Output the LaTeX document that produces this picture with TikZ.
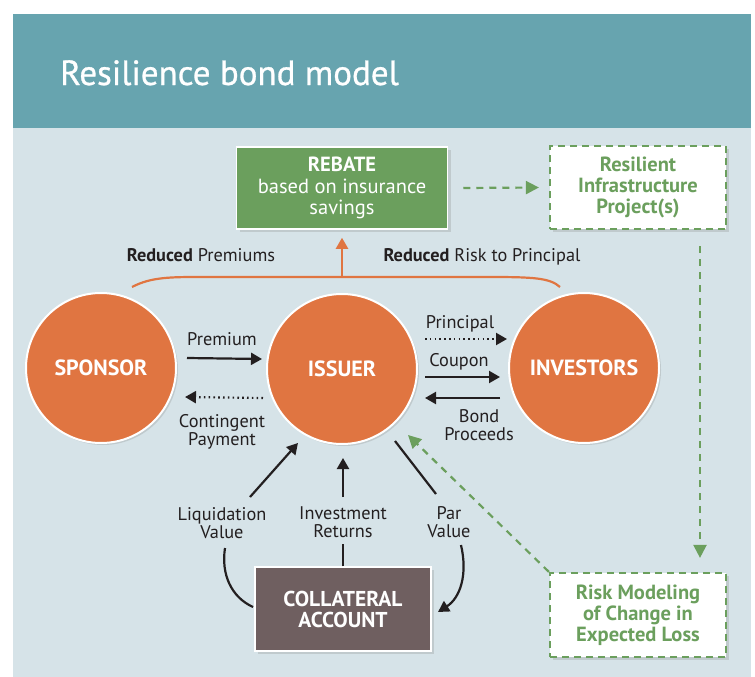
\documentclass[tikz,border=0pt]{standalone}
\usepackage{fontspec}
\setmainfont{PT Sans}
\newfontfamily\titlefont[FakeBold=0.8]{PT Sans}
\usetikzlibrary{arrows.meta,shadows,calc}
\definecolor{hdrc}{HTML}{67A4AF}
\definecolor{bgc}{HTML}{D6E3E8}
\definecolor{orng}{HTML}{E07541}
\definecolor{grn}{HTML}{6B9F5D}
\definecolor{brwn}{HTML}{6F5F60}
\definecolor{ink}{HTML}{231F20}
\tikzset{
  circ/.style={circle, fill=orng, draw=white, line width=2pt, minimum size=150pt, inner sep=0pt,
    text=white, font=\fontsize{22}{24}\selectfont\bfseries,
    drop shadow={shadow xshift=2pt, shadow yshift=-2pt, opacity=0.25}},
  gbox/.style={rectangle, fill=grn, draw=white, line width=1.5pt, text=white, align=center,
    font=\fontsize{20.5}{21.5}\selectfont, inner sep=0pt,
    drop shadow={shadow xshift=3pt, shadow yshift=-3pt, opacity=0.25}},
  dbox/.style={rectangle, fill=white, draw=grn, line width=2.2pt, dash pattern=on 7pt off 5pt,
    text=grn, align=center, font=\fontsize{20.5}{21}\selectfont\bfseries, inner sep=0pt,
    drop shadow={shadow xshift=3pt, shadow yshift=-3pt, opacity=0.25}},
  bbox/.style={rectangle, fill=brwn, draw=white, line width=1.5pt, text=white, align=center,
    font=\fontsize{21.5}{21}\selectfont\bfseries, inner sep=0pt,
    drop shadow={shadow xshift=3pt, shadow yshift=-3pt, opacity=0.25}},
  lbl/.style={text=ink, align=center, font=\fontsize{18.3}{18.5}\selectfont, inner sep=0pt},
  arr/.style={draw=ink, line width=2.2pt, -{Triangle[width=12pt,length=11pt]}},
  darr/.style={draw=ink, line width=2.2pt, dash pattern=on 1.6pt off 3.2pt, -{Triangle[width=12pt,length=11pt]}},
  pln/.style={draw=ink, line width=2.2pt},
  gdash/.style={draw=grn, line width=2.2pt, dash pattern=on 7pt off 6pt, -{Triangle[width=13pt,length=13pt]}},
}
\begin{document}
\begin{tikzpicture}[x=1pt,y=-1pt]
\useasboundingbox (0,0) rectangle (755,677);
\fill[white] (0,0) rectangle (755,677);
\fill[bgc] (13,128) rectangle (751,677);
\fill[hdrc] (13,14) rectangle (751,128);
\node[anchor=base west, text=white, font=\titlefont\fontsize{35}{38}\selectfont, inner sep=0pt] (title) at (60,85) {Resilience bond model};

% boxes
\node[gbox, minimum width=211pt, minimum height=82pt] (rebate) at (342,188) {\textbf{REBATE}\\based on insurance\\savings};
\node[dbox, minimum width=176pt, minimum height=83pt] (project) at (638,187.5) {Resilient\\Infrastructure\\Project(s)};
\node[dbox, minimum width=176pt, minimum height=84pt] (risk) at (638,615) {Risk Modeling\\of Change in\\Expected Loss};
\node[bbox, minimum width=176pt, minimum height=84pt] (collat) at (343,609) {COLLATERAL\\ACCOUNT};

% circles
\node[circ] (sponsor) at (101,368) {SPONSOR};
\node[circ] (issuer) at (342,369) {ISSUER};
\node[circ] (investors) at (584,368) {INVESTORS};

% orange bracket
\coordinate (bm) at (342,277);
\draw[orng, line width=2.2pt] ($(sponsor)+(31,-81)$) .. controls ($(sponsor)+(50,-91)$) and ($(sponsor)+(70,-91)$) .. ($(sponsor)+(100,-91)$) -- (bm) -- ($(investors)+(-94,-91)$) .. controls ($(investors)+(-50,-91)$) and ($(investors)+(-34,-90)$) .. ($(investors)+(-24,-81)$);
\draw[orng, line width=2.2pt, -{Triangle[width=12pt,length=11pt]}] (bm) -- ([yshift=-8pt]rebate.south);

\node[lbl, anchor=base] (redprem) at (201,261) {\textbf{Reduced} Premiums};
\node[lbl, anchor=base] (redrisk) at (482,261) {\textbf{Reduced} Risk to Principal};

% green dashed
\draw[gdash] ([xshift=15pt]rebate.east) -- ([xshift=-10pt]project.west);
\draw[gdash] ([xshift=62pt,yshift=-16pt]project.south) -- ([xshift=62pt,yshift=14pt]risk.north);
\draw[gdash] (risk.north west) -- ($(issuer)+(66,66)$);

% sponsor - issuer
\node[lbl, anchor=base] (prem) at (222,345) {Premium};
\draw[arr] ($(sponsor)+(86,-10)$) -- ($(issuer)+(-80,-10)$);
\draw[darr] ($(issuer)+(-79,29)$) -- ($(sponsor)+(84,29)$);
\node[lbl] (cont) at (222,432) {Contingent\\Payment};

% issuer - investors
\node[lbl, anchor=base] (princ) at (460,328) {Principal};
\draw[darr] ($(issuer)+(83,-30)$) -- ($(investors)+(-77,-29)$);
\node[lbl, anchor=base] (coup) at (459,366) {Coupon};
\draw[arr] ($(issuer)+(83,8)$) -- ($(investors)+(-84,9)$);
\draw[arr] ($(investors)+(-84,30)$) -- ($(issuer)+(83,29)$);
\node[lbl] (bond) at (479,425) {Bond\\Proceeds};

% collateral
\node[lbl] (liq) at (222,523) {Liquidation\\Value};
\draw[pln] ($(collat)+(-90,-2)$) .. controls ($(collat)+(-112,-12)$) and ($(collat)+(-122,-35)$) .. ($(collat)+(-118,-61)$);
\draw[arr] (250,497) -- ($(issuer)+(-44,74)$);

\node[lbl] (inv) at (343,522) {Investment\\Returns};
\draw[pln] (collat.north) -- ([yshift=22pt]collat.north);
\draw[arr] (343,497) -- ($(issuer)+(1,89)$);

\node[lbl] (par) at (449,522) {Par\\Value};
\draw[pln] ($(issuer)+(53,72)$) -- (436,494);
\draw[arr] (461,545) .. controls (468,575) and (460,598) .. ($(collat)+(95,3)$);
\end{tikzpicture}
\end{document}
